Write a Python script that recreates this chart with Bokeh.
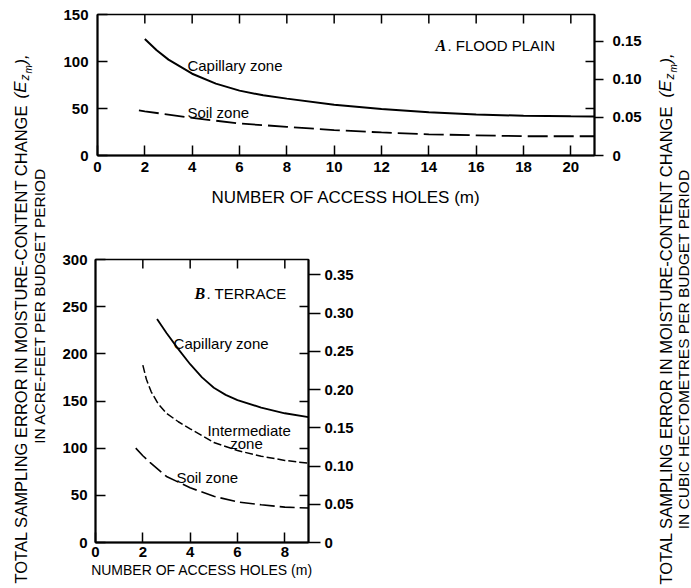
import math
from bokeh.plotting import figure
from bokeh.models import Range1d, LinearAxis, FixedTicker, Label
from bokeh.layouts import row, column
from bokeh.embed import file_html
from bokeh.resources import INLINE

AF_TO_HM3 = 0.00123348  # cubic hectometres per acre-foot

# ---------------- Panel A: flood plain ----------------
flood_x_ticks = [0, 2, 4, 6, 8, 10, 12, 14, 16, 18, 20]
flood_y_ticks = [0, 50, 100, 150]
flood_hm3_ticks = [0, 0.05, 0.10, 0.15]
flood_hm3_labels = ["0", "0.05", "0.10", "0.15"]

flood_cap_m = [2, 2.5, 3, 4, 5, 6, 7, 8, 10, 12, 14, 16, 18, 20, 21]
flood_cap_err = [124, 112, 102, 87, 76.5, 69, 64, 60.5, 54, 49.5, 46, 43.5, 42.3, 41.7, 41.5]
flood_soil_m = [1.75, 2, 4, 6, 8, 10, 12, 14, 16, 18, 21]
flood_soil_err = [48, 47, 40, 34, 30.5, 27, 24.5, 22.5, 21.5, 20.5, 20.5]

# ---------------- Panel B: terrace ----------------
terr_x_ticks = [0, 2, 4, 6, 8]
terr_y_ticks = [0, 50, 100, 150, 200, 250, 300]
terr_hm3_ticks = [0, 0.05, 0.10, 0.15, 0.20, 0.25, 0.30, 0.35]
terr_hm3_labels = ["0", "0.05", "0.10", "0.15", "0.20", "0.25", "0.30", "0.35"]

terr_cap_m = [2.6, 3.0, 3.5, 4.0, 4.5, 5.0, 5.5, 6.0, 7.0, 8.0, 9.0]
terr_cap_err = [237, 222, 205, 189, 175, 164, 156.5, 151, 143, 137, 133]
terr_int_m = [2.0, 2.15, 2.35, 2.65, 3.0, 3.5, 4.0, 5.0, 6.0, 7.0, 8.0, 9.0]
terr_int_err = [188, 173, 160, 147, 137, 128, 120.5, 106, 97.5, 91.5, 87, 84]
terr_soil_m = [1.7, 2.0, 2.3, 3.0, 4.0, 5.0, 6.0, 7.0, 8.0, 9.0]
terr_soil_err = [100, 92, 85, 70, 58, 49, 43, 40, 37.5, 36.5]

FONT = "Liberation Sans"
SERIF = "Liberation Serif"


def style_axis(ax, tick_in, tick_out, standoff):
    ax.major_tick_in = tick_in
    ax.major_tick_out = tick_out
    ax.minor_tick_in = 0
    ax.minor_tick_out = 0
    ax.axis_line_width = 2
    ax.axis_line_color = "black"
    ax.major_tick_line_width = 1.5
    ax.major_tick_line_color = "black"
    ax.major_label_text_font = FONT
    ax.major_label_text_font_style = "bold"
    ax.major_label_text_font_size = "15px"
    ax.major_label_text_color = "black"
    ax.major_label_standoff = standoff


def panel(width, height, borders, xmax, ymax, xt, yt, hm3t, hm3l,
          bottom_standoff, left_standoff, right_out, right_standoff,
          xlabel_size, xlabel_standoff):
    l, r, t, b = borders
    p = figure(width=width, height=height,
               x_range=Range1d(0, xmax), y_range=Range1d(0, ymax),
               toolbar_location=None, output_backend="svg",
               min_border_left=l, min_border_right=r,
               min_border_top=t, min_border_bottom=b,
               frame_align=False)
    p.grid.visible = False
    p.outline_line_color = "black"
    p.outline_line_width = 1.5
    p.background_fill_color = "white"
    p.border_fill_color = "white"

    p.xaxis.ticker = FixedTicker(ticks=xt)
    p.yaxis.ticker = FixedTicker(ticks=yt)
    style_axis(p.xaxis[0], 10, 0, bottom_standoff)
    style_axis(p.yaxis[0], 10, 0, left_standoff)
    p.xaxis.axis_label = "NUMBER OF ACCESS HOLES (m)"
    p.xaxis.axis_label_text_font = FONT
    p.xaxis.axis_label_text_font_style = "normal"
    p.xaxis.axis_label_text_font_size = xlabel_size
    p.xaxis.axis_label_text_color = "black"
    p.xaxis.axis_label_standoff = xlabel_standoff

    # inward tick marks along the top edge of the frame, at the x tick values
    p.scatter(xt[1:], [ymax] * len(xt[1:]), marker="dash", angle=math.pi / 2,
              size=18, line_color="black", line_width=1.5)

    p.extra_y_ranges = {"hm3": Range1d(0, ymax * AF_TO_HM3)}
    right = LinearAxis(y_range_name="hm3",
                       ticker=FixedTicker(ticks=hm3t,
                                          minor_ticks=[v * AF_TO_HM3 for v in yt[1:-1]]),
                       major_label_overrides=dict(zip(hm3t, hm3l)))
    style_axis(right, 0, right_out, right_standoff)
    right.minor_tick_in = 9
    right.minor_tick_out = 0
    right.minor_tick_line_width = 1.5
    right.minor_tick_line_color = "black"
    p.add_layout(right, "right")
    return p


def lab(p, x, y, text, size="15px", align="left", font=FONT, style="normal"):
    p.add_layout(Label(x=x, y=y, text=text, text_font=font, text_font_style=style,
                       text_font_size=size, text_align=align, text_baseline="middle",
                       text_color="black"))


# ---- top panel ----
pa = panel(594, 240, (45, 52, 14, 85), 21, 150, flood_x_ticks, flood_y_ticks,
           flood_hm3_ticks, flood_hm3_labels, 6, 9, 9, 9, "17px", 13)
pa.line(flood_cap_m, flood_cap_err, line_color="black", line_width=2)
pa.line(flood_soil_m, flood_soil_err, line_color="black", line_width=1.8, line_dash="20 6")
lab(pa, 3.8, 95.7, "Capillary zone")
lab(pa, 3.8, 45.7, "Soil zone")
lab(pa, 14.28, 117, "A", size="16px", font=SERIF, style="bold italic")
lab(pa, 14.79, 117, ". FLOOD PLAIN")

# ---- bottom panel ----
pb = panel(594, 348, (43, 338, 19, 46), 9, 300, terr_x_ticks, terr_y_ticks,
           terr_hm3_ticks, terr_hm3_labels, 4, 8, 12, 4, "14px", 2)
pb.line(terr_cap_m, terr_cap_err, line_color="black", line_width=1.8)
pb.line(terr_int_m, terr_int_err, line_color="black", line_width=1.5, line_dash="8 3")
pb.line(terr_soil_m, terr_soil_err, line_color="black", line_width=1.6, line_dash="15 5")
lab(pb, 3.30, 210.9, "Capillary zone")
lab(pb, 6.49, 118.7, "Intermediate", align="center")
lab(pb, 6.38, 104.9, "zone", align="center")
lab(pb, 3.42, 68.9, "Soil zone")
lab(pb, 4.18, 263.9, "B", size="16px", font=SERIF, style="bold italic")
lab(pb, 4.69, 263.9, ". TERRACE")


# ---- side titles (page-pixel coordinates) ----
def textfig(x0, x1):
    f = figure(width=x1 - x0, height=588, x_range=Range1d(x0, x1), y_range=Range1d(0, 588),
               toolbar_location=None, output_backend="svg", min_border=0,
               x_axis_location=None, y_axis_location=None, frame_align=False)
    f.grid.visible = False
    f.outline_line_color = None
    f.background_fill_color = "white"
    f.border_fill_color = "white"
    return f


def vlab(f, x, yabs, text, size="16px", align="left", style="normal"):
    f.add_layout(Label(x=x, y=588 - yabs, text=text, angle=math.pi / 2,
                       text_font=FONT, text_font_style=style, text_font_size=size,
                       text_align=align, text_baseline="middle", text_color="black"))


def title_line1(f, x, ystart, ye):
    vlab(f, x, ystart, "TOTAL SAMPLING ERROR IN MOISTURE-CONTENT CHANGE", size="16.5px")
    vlab(f, x, ye, "(E", size="17px", style="italic")
    vlab(f, x + 4, ye - 18, "z", size="12px", style="italic")
    vlab(f, x + 7.5, ye - 25, "m", size="10px", style="italic")
    vlab(f, x, ye - 34, "),", size="16.5px", style="italic")


lf = textfig(0, 52)
title_line1(lf, 20, 583, 98)
vlab(lf, 39, 305, "IN ACRE-FEET PER BUDGET PERIOD", size="15.5px", align="center")

rf = textfig(646, 691)
title_line1(rf, 665, 584, 97)
vlab(rf, 683, 349, "IN CUBIC HECTOMETRES PER BUDGET PERIOD", size="15.5px", align="center")

layout = row(lf, column(pa, pb), rf)

open("out.html", "w").write(file_html(layout, INLINE))
